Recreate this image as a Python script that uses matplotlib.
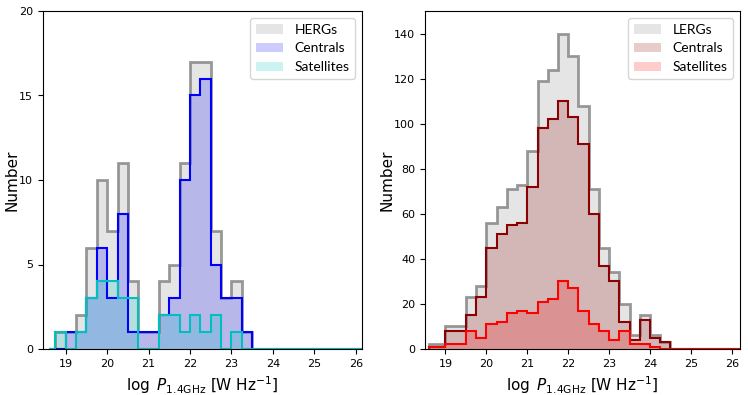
import numpy as np
import matplotlib
matplotlib.use("Agg")
import matplotlib.pyplot as plt

# bin edges (log P_1.4GHz), 0.25 dex wide
edges = np.array([18.6, 18.75, 19.0, 19.25, 19.5, 19.75, 20.0, 20.25, 20.5, 20.75,
                  21.0, 21.25, 21.5, 21.75, 22.0, 22.25, 22.5, 22.75, 23.0, 23.25,
                  23.5, 23.75, 24.0, 24.25, 24.5, 24.75, 25.0, 25.25, 25.5, 25.75,
                  26.0, 26.25, 26.5])

# HERGs (left panel)
herg_all = [0, 1, 1, 2, 6, 10, 7, 11, 4, 1, 1, 4, 5, 11, 17, 17, 7, 3, 4, 1,
            0, 0, 0, 0, 0, 0, 0, 0, 0, 0, 0, 0]
herg_cen = [0, 0, 1, 1, 3, 6, 3, 8, 1, 1, 1, 2, 3, 10, 15, 16, 5, 3, 3, 1,
            0, 0, 0, 0, 0, 0, 0, 0, 0, 0, 0, 0]
herg_sat = [0, 1, 0, 1, 3, 4, 4, 3, 3, 0, 0, 2, 2, 1, 2, 1, 2, 0, 1, 0,
            0, 0, 0, 0, 0, 0, 0, 0, 0, 0, 0, 0]

# LERGs (right panel)
lerg_all = [2, 2, 10, 10, 23, 28, 56, 63, 71, 73, 88, 119, 124, 140, 130, 108, 71, 45, 34, 20,
            6, 15, 6, 3, 0, 0, 0, 0, 0, 0, 0, 0]
lerg_cen = [1, 1, 8, 8, 15, 23, 45, 51, 55, 56, 72, 98, 102, 110, 103, 91, 60, 37, 30, 12,
            4, 13, 5, 3, 0, 0, 0, 0, 0, 0, 0, 0]
lerg_sat = [1, 1, 2, 2, 8, 5, 11, 12, 16, 17, 16, 21, 22, 30, 27, 17, 11, 8, 4, 8,
            2, 2, 1, 0, 0, 0, 0, 0, 0, 0, 0, 0]

centres = 0.5 * (edges[:-1] + edges[1:])

fig = plt.figure(figsize=(7.48, 3.95), dpi=100)
W, H = 748, 395
ax1 = fig.add_axes([43 / W, (H - 349) / H, 319 / W, 338 / H])
ax2 = fig.add_axes([425 / W, (H - 349) / H, 315 / W, 338 / H])


def draw(ax, counts, fill, edge, label, lw=1.5, ealpha=1.0):
    ax.hist(centres, bins=edges, weights=counts, histtype='stepfilled',
            color=fill, alpha=0.2, label=label)
    ax.hist(centres, bins=edges, weights=counts, histtype='step',
            color=edge, lw=lw, alpha=ealpha)


draw(ax1, herg_all, 'grey', 'grey', 'HERGs', lw=2, ealpha=0.8)
draw(ax1, herg_cen, 'b', 'b', 'Centrals')
draw(ax1, herg_sat, 'c', 'c', 'Satellites')

draw(ax2, lerg_all, 'grey', 'grey', 'LERGs', lw=2, ealpha=0.8)
draw(ax2, lerg_cen, 'darkred', 'darkred', 'Centrals')
draw(ax2, lerg_sat, 'r', 'r', 'Satellites')

ax1.set_xlim(18.45, 26.15)
ax1.set_ylim(0, 20)
ax1.set_yticks([0, 5, 10, 15, 20])
ax2.set_xlim(18.5, 26.2)
ax2.set_ylim(0, 150)
ax2.set_yticks(np.arange(0, 141, 20))

for ax in (ax1, ax2):
    ax.set_xticks(range(19, 27))
    ax.tick_params(labelsize=8)
    ax.set_xlabel(r'$\log\ P_{1.4\mathrm{GHz}}$ [W Hz$^{-1}$]', fontsize=11)
    ax.set_ylabel('Number', fontsize=11, labelpad=0)
    ax.legend(loc='upper right', prop={'family': 'Lato', 'size': 10})

fig.savefig('out.png', dpi=100)
